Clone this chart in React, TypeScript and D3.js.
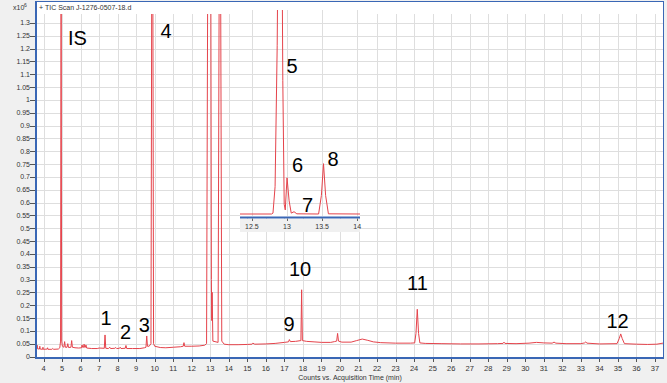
import React from "react";
import * as d3 from "d3";

const W = 667;
const H = 383;

// ---- data ----
const xTickValues: number[] = d3.range(4, 38);
const yTickValues: number[] = [0, 0.05, 0.1, 0.15, 0.2, 0.25, 0.3, 0.35, 0.4, 0.45, 0.5, 0.55, 0.6, 0.65, 0.7, 0.75, 0.8, 0.85, 0.9, 0.95, 1, 1.05, 1.1, 1.15, 1.2, 1.25, 1.3];
const yTickLabels: string[] = ["0", "0.05", "0.1", "0.15", "0.2", "0.25", "0.3", "0.35", "0.4", "0.45", "0.5", "0.55", "0.6", "0.65", "0.7", "0.75", "0.8", "0.85", "0.9", "0.95", "1", "1.05", "1.1", "1.15", "1.2", "1.25", "1.3"];
const insetTickValues: number[] = [12.5, 13, 13.5, 14];
const insetTickLabels: string[] = ["12.5", "13", "13.5", "14"];

const titleText = "+ TIC Scan J-1276-0507-18.d";
const xAxisTitle = "Counts vs. Acquisition Time (min)";

// time (min), counts (x10^6)
const ticTrace: [number, number][] = [
  [3.6, 0.030], [3.64, 0.031], [3.66, 0.044], [3.68, 0.030], [3.78, 0.029], [3.8, 0.040], [3.82, 0.029],
  [3.95, 0.028], [3.97, 0.036], [3.99, 0.028], [4.2, 0.029], [4.22, 0.034], [4.24, 0.028], [4.45, 0.028],
  [4.5, 0.031], [4.55, 0.028], [4.8, 0.029], [4.88, 0.034], [4.92, 0.06], [4.95, 1.45], [4.98, 0.06],
  [5.02, 0.04], [5.1, 0.036], [5.14, 0.058], [5.18, 0.036], [5.27, 0.036], [5.31, 0.05], [5.35, 0.035],
  [5.48, 0.036], [5.52, 0.062], [5.56, 0.036], [5.7, 0.034], [5.9, 0.033], [6.05, 0.034], [6.08, 0.045],
  [6.12, 0.035], [6.16, 0.036], [6.19, 0.048], [6.23, 0.035], [6.26, 0.036], [6.29, 0.045], [6.33, 0.033],
  [6.6, 0.031], [6.9, 0.031], [7.0, 0.033], [7.28, 0.032], [7.32, 0.084], [7.36, 0.032], [7.5, 0.031],
  [7.58, 0.036], [7.62, 0.031], [7.85, 0.032], [7.9, 0.035], [7.95, 0.031], [8.1, 0.032], [8.14, 0.036],
  [8.18, 0.031], [8.41, 0.032], [8.45, 0.043], [8.49, 0.031], [8.8, 0.031], [9.2, 0.031], [9.45, 0.034],
  [9.53, 0.036], [9.57, 0.08], [9.61, 0.04], [9.7, 0.04], [9.8, 0.05], [9.84, 1.45], [9.9, 1.45],
  [9.94, 0.05], [10.0, 0.04], [10.3, 0.035], [10.6, 0.034], [11.0, 0.036], [11.4, 0.038], [11.54, 0.04],
  [11.58, 0.054], [11.62, 0.04], [12.0, 0.04], [12.4, 0.041], [12.7, 0.044], [12.8, 0.05], [12.86, 1.45],
  [13.03, 1.45], [13.06, 0.3], [13.08, 0.14], [13.1, 0.25], [13.14, 0.06], [13.42, 0.055], [13.48, 1.45],
  [13.56, 1.45], [13.62, 0.06], [13.75, 0.048], [14.0, 0.046], [14.5, 0.046], [15.0, 0.047], [15.25, 0.048],
  [15.3, 0.052], [15.4, 0.048], [16.0, 0.049], [16.5, 0.051], [17.0, 0.055], [17.22, 0.057], [17.27, 0.066],
  [17.32, 0.058], [17.6, 0.059], [17.89, 0.062], [17.93, 0.26], [17.97, 0.062], [18.2, 0.059], [18.6, 0.057],
  [19.0, 0.055], [19.5, 0.055], [19.7, 0.058], [19.82, 0.06], [19.87, 0.09], [19.92, 0.06], [20.1, 0.056],
  [20.6, 0.056], [20.9, 0.062], [21.2, 0.068], [21.5, 0.063], [21.8, 0.057], [22.2, 0.054], [23.0, 0.052],
  [23.8, 0.052], [24.03, 0.053], [24.1, 0.09], [24.17, 0.184], [24.24, 0.09], [24.31, 0.053], [24.6, 0.051],
  [25.5, 0.05], [26.5, 0.049], [27.5, 0.049], [28.5, 0.05], [28.8, 0.051], [28.85, 0.056], [28.9, 0.051],
  [29.5, 0.05], [30.2, 0.052], [30.6, 0.055], [31.0, 0.053], [31.45, 0.052], [31.55, 0.056], [31.65, 0.052],
  [32.2, 0.05], [33.0, 0.05], [33.2, 0.053], [33.26, 0.057], [33.32, 0.052], [34.0, 0.049], [34.95, 0.05],
  [35.07, 0.07], [35.15, 0.088], [35.23, 0.07], [35.35, 0.05], [36.0, 0.048], [36.6, 0.047], [37.1, 0.048],
  [37.5, 0.053],
];

// inset zoom of 12.3–14 min
const insetTrace: [number, number][] = [
  [12.33, 0.045], [12.78, 0.045], [12.8, 0.05], [12.83, 0.2], [12.86, 1.0], [12.87, 1.5], [12.93, 1.5],
  [12.94, 0.8], [12.96, 0.1], [12.975, 0.068], [13.0, 0.25], [13.03, 0.12], [13.06, 0.05], [13.1, 0.058],
  [13.14, 0.046], [13.45, 0.045], [13.49, 0.15], [13.52, 0.33], [13.55, 0.15], [13.59, 0.046], [14.04, 0.045],
];

const peakLabels: { text: string; time: number; counts: number }[] = [
  { text: "IS", time: 5.835, counts: 1.214 },
  { text: "4", time: 10.611, counts: 1.241 },
  { text: "1", time: 7.373, counts: 0.123 },
  { text: "2", time: 8.425, counts: 0.068 },
  { text: "3", time: 9.44, counts: 0.0955 },
  { text: "9", time: 17.248, counts: 0.0994 },
  { text: "10", time: 17.842, counts: 0.3137 },
  { text: "11", time: 24.183, counts: 0.2592 },
  { text: "12", time: 34.977, counts: 0.111 },
];

const insetLabels: { text: string; time: number; counts: number }[] = [
  { text: "5", time: 13.072, counts: 0.843 },
  { text: "6", time: 13.15, counts: 0.283 },
  { text: "7", time: 13.293, counts: 0.0563 },
  { text: "8", time: 13.655, counts: 0.317 },
];

// ---- layout ----
const plotLeft = 36;
const plotRight = 664;
const plotTop = 1;
const dataTop = 14;
const plotBottom = 358;

const insetLeft = 240;
const insetRight = 360;
const insetTop = 10;
const insetBase = 214;

const BLUE = "#3a67b5";
const RED = "#e5434b";
const GRID = "#dedede";
const TEXT = "#333";
const FONT = "'Liberation Sans', Arial, sans-serif";

export default function App() {
  const x = d3.scaleLinear().domain([3.595, 37.485]).range([plotLeft, plotRight]);
  const y = d3.scaleLinear().domain([0, 1.3]).range([356.5, 22.9]);
  const xi = d3.scaleLinear().domain([12.33, 14.04]).range([insetLeft, insetRight]);
  const yi = d3.scaleLinear().domain([0.045, 1.2]).range([insetBase, insetTop]);

  const line = d3.line<[number, number]>().x((d) => x(d[0])).y((d) => y(d[1]));
  const lineInset = d3.line<[number, number]>().x((d) => xi(d[0])).y((d) => yi(d[1]));

  return (
    <svg width={W} height={H} style={{ position: "absolute", left: 0, top: 0, display: "block" }} fontFamily={FONT}>
      <defs>
        <clipPath id="plotClip">
          <rect x={plotLeft} y={dataTop} width={plotRight - plotLeft} height={plotBottom - dataTop} />
        </clipPath>
        <clipPath id="insetClip">
          <rect x={insetLeft} y={insetTop} width={insetRight - insetLeft} height={insetBase - insetTop + 3} />
        </clipPath>
      </defs>
      <rect x={0} y={0} width={W} height={H} fill="#f0f0f0" />
      <rect x={plotLeft} y={plotTop} width={plotRight - plotLeft} height={plotBottom - plotTop} fill="#fff" />

      {/* grid */}
      {yTickValues.slice(1).map((v) => (
        <line key={"hg" + v} x1={plotLeft} x2={plotRight} y1={Math.round(y(v)) + 0.5} y2={Math.round(y(v)) + 0.5} stroke={GRID} />
      ))}
      {xTickValues.map((t) => (
        <line key={"vg" + t} x1={Math.round(x(t)) + 0.5} x2={Math.round(x(t)) + 0.5} y1={dataTop} y2={plotBottom} stroke={GRID} />
      ))}

      {/* main trace */}
      <path d={line(ticTrace) || ""} fill="none" stroke={RED} strokeWidth={1} clipPath="url(#plotClip)" />

      {/* inset */}
      <rect x={insetLeft} y={insetTop} width={insetRight - insetLeft} height={insetBase - insetTop + 3} fill="#fff" />
      {yTickValues.slice(1).filter((v) => y(v) > insetTop && y(v) < insetBase).map((v) => (
        <line key={"ihg" + v} x1={insetLeft} x2={insetRight} y1={Math.round(y(v)) + 0.5} y2={Math.round(y(v)) + 0.5} stroke={GRID} />
      ))}
      {insetTickValues.map((t) => (
        <line key={"ivg" + t} x1={Math.round(xi(t)) + 0.5} x2={Math.round(xi(t)) + 0.5} y1={insetTop} y2={insetBase + 2} stroke={GRID} />
      ))}
      <path d={lineInset(insetTrace) || ""} fill="none" stroke={RED} strokeWidth={1} clipPath="url(#insetClip)" />
      <rect x={insetLeft} y={219} width={insetRight - insetLeft} height={13} fill="#f0f0f0" />
      <line x1={insetLeft} x2={insetRight} y1={217.5} y2={217.5} stroke={BLUE} strokeWidth={2} />
      {insetTickValues.map((t, i) => (
        <g key={"it" + t}>
          <line x1={Math.round(xi(t)) + 0.5} x2={Math.round(xi(t)) + 0.5} y1={218.5} y2={221} stroke="#666" />
          <text x={xi(t)} y={229} fontSize={7} fill={TEXT} textAnchor="middle">{insetTickLabels[i]}</text>
        </g>
      ))}
      {insetLabels.map((l) => (
        <text key={"il" + l.text} x={xi(l.time)} y={yi(l.counts)} fontSize={20} fill="#000" textAnchor="middle">{l.text}</text>
      ))}

      {/* peak labels */}
      {peakLabels.map((l) => (
        <text key={"pl" + l.text} x={x(l.time)} y={y(l.counts)} fontSize={20} fill="#000" textAnchor="middle">{l.text}</text>
      ))}

      {/* frame */}
      <line x1={plotLeft} x2={plotRight} y1={plotTop + 0.5} y2={plotTop + 0.5} stroke={BLUE} />
      <line x1={plotRight - 0.5} x2={plotRight - 0.5} y1={plotTop} y2={plotBottom} stroke={BLUE} />
      <line x1={plotLeft} x2={plotLeft} y1={plotTop} y2={plotBottom + 1} stroke={BLUE} strokeWidth={2} />
      <line x1={plotLeft - 1} x2={plotRight} y1={plotBottom} y2={plotBottom} stroke={BLUE} strokeWidth={2} />

      {/* y axis */}
      {yTickValues.map((v, i) => (
        <g key={"yt" + v}>
          <line x1={plotLeft - 6} x2={plotLeft - 1} y1={Math.round(y(v)) + 0.5} y2={Math.round(y(v)) + 0.5} stroke="#555" />
          <text x={plotLeft - 6} y={y(v) + 2.5} fontSize={7} fill={TEXT} textAnchor="end">{yTickLabels[i]}</text>
        </g>
      ))}
      {/* x axis */}
      {xTickValues.map((t) => (
        <g key={"xt" + t}>
          <line x1={Math.round(x(t)) + 0.5} x2={Math.round(x(t)) + 0.5} y1={plotBottom + 1} y2={plotBottom + 4} stroke="#555" />
          <text x={x(t)} y={370.5} fontSize={7.5} fill={TEXT} textAnchor="middle">{t}</text>
        </g>
      ))}
      <text x={350} y={380} fontSize={7} fill={TEXT} textAnchor="middle">{xAxisTitle}</text>

      {/* title & multiplier */}
      <text x={39} y={9.5} fontSize={7} fill={TEXT}>{titleText}</text>
      <text x={13} y={10} fontSize={7} fill={TEXT}>x10</text>
      <text x={24} y={7} fontSize={5} fill={TEXT}>6</text>
    </svg>
  );
}
